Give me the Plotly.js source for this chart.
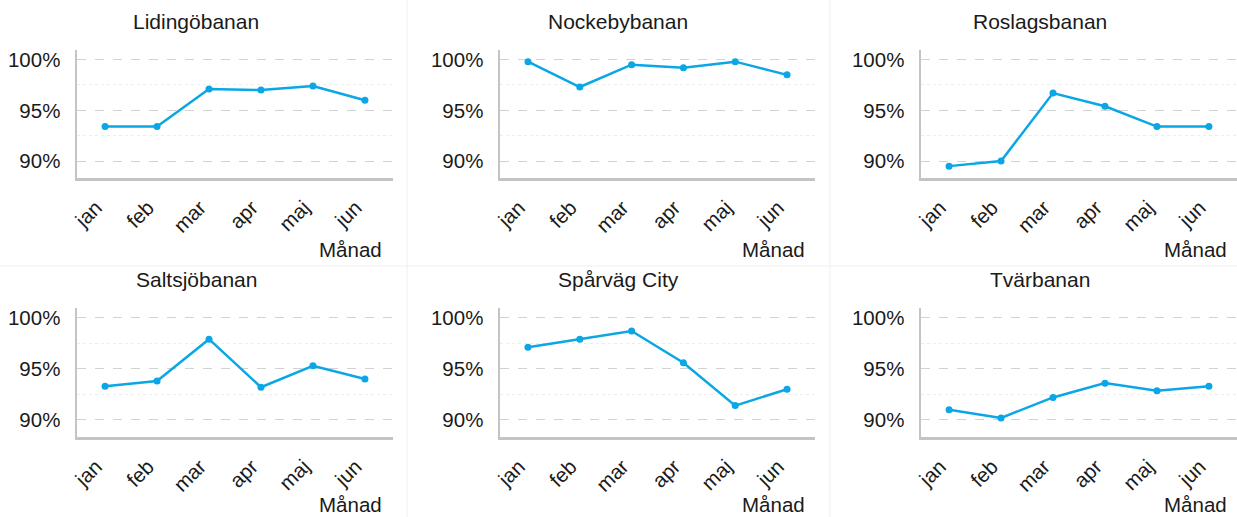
<!DOCTYPE html>
<html>
<head>
<meta charset="utf-8">
<script src="https://cdn.plot.ly/plotly-3.0.1.min.js"></script>
<style>html,body{margin:0;padding:0;background:#fff;}#chart{width:1237px;height:517px;}</style>
</head>
<body>
<div id="chart"></div>
<script>
const months = ['jan', 'feb', 'mar', 'apr', 'maj', 'jun'];
const lines = ['Lidingöbanan', 'Nockebybanan', 'Roslagsbanan', 'Saltsjöbanan', 'Spårväg City', 'Tvärbanan'];
const lidingobanan = [93.4, 93.4, 97.1, 97.0, 97.4, 96.0];
const nockebybanan = [99.8, 97.3, 99.5, 99.2, 99.8, 98.5];
const roslagsbanan = [89.5, 90.0, 96.7, 95.4, 93.4, 93.4];
const saltsjobanan = [93.3, 93.8, 97.9, 93.2, 95.3, 94.0];
const sparvagCity = [97.1, 97.9, 98.7, 95.6, 91.4, 93.0];
const tvarbanan = [91.0, 90.2, 92.2, 93.6, 92.85, 93.3];
const seriesValues = [lidingobanan, nockebybanan, roslagsbanan, saltsjobanan, sparvagCity, tvarbanan];
const yTickVals = [90, 95, 100];
const yTickText = ['90%', '95%', '100%'];
const xAxisTitle = 'Månad';

const W = 1237, H = 517;
const font = 'Liberation Sans, Arial, sans-serif';
const colX = [[77, 393], [500, 815], [921, 1237]];
const rowY = [[50, 178], [308, 437]];
const titleX = [196, 618, 1040];
const titleY = [22, 279];
const mlabelRight = [384, 807, 1229];
const mlabelY = [249, 504];

const data = [];
const layout = {
  width: W, height: H,
  margin: {l: 0, r: 0, t: 0, b: 0},
  paper_bgcolor: '#fff', plot_bgcolor: '#fff',
  showlegend: false,
  font: {family: font, size: 20.5, color: '#1a1a1a'},
  annotations: [],
  shapes: []
};

seriesValues.forEach((vals, i) => {
  const c = i % 3, r = Math.floor(i / 3);
  const n = i + 1;
  const xa = 'xaxis' + (n === 1 ? '' : n);
  const ya = 'yaxis' + (n === 1 ? '' : n);
  data.push({
    type: 'scatter', mode: 'lines+markers',
    x: months, y: vals,
    xaxis: 'x' + (n === 1 ? '' : n), yaxis: 'y' + (n === 1 ? '' : n),
    line: {color: '#0aa6e6', width: 2.5},
    marker: {color: '#0aa6e6', size: 7},
    hoverinfo: 'x+y'
  });
  layout[xa] = {
    domain: [colX[c][0] / W, colX[c][1] / W],
    anchor: 'y' + (n === 1 ? '' : n),
    type: 'category',
    range: [-0.54, 5.54],
    tickangle: -45,
    showgrid: false, zeroline: false,
    showline: true, linecolor: '#c4c4c4', linewidth: 2.5,
    ticks: '', ticklabelstandoff: 7, ticklabelshift: -9,
    tickfont: {family: font, size: 20.5, color: '#1a1a1a'},
    fixedrange: true
  };
  layout[ya] = {
    domain: [1 - rowY[r][1] / H, 1 - rowY[r][0] / H],
    anchor: 'x' + (n === 1 ? '' : n),
    range: [88.33, 100.95],
    tickvals: yTickVals, ticktext: yTickText,
    showgrid: true, gridcolor: '#d2d2d2', griddash: 'dash', gridwidth: 1,
    minor: {tickvals: [92.5, 97.5], showgrid: true, gridcolor: '#ececec', griddash: 'dot', gridwidth: 1, ticks: ''},
    zeroline: false,
    showline: true, linecolor: '#c4c4c4', linewidth: 2.5,
    ticks: '', ticklabelstandoff: 10,
    tickfont: {family: font, size: 20.5, color: '#1a1a1a'},
    fixedrange: true
  };
  layout.annotations.push({
    text: lines[i], xref: 'paper', yref: 'paper',
    x: titleX[c] / W, y: 1 - titleY[r] / H,
    xanchor: 'center', yanchor: 'middle', showarrow: false,
    font: {family: font, size: 21, color: '#1a1a1a'}
  });
  layout.annotations.push({
    text: xAxisTitle, xref: 'paper', yref: 'paper',
    x: mlabelRight[c] / W, y: 1 - mlabelY[r] / H,
    xanchor: 'right', yanchor: 'middle', showarrow: false,
    font: {family: font, size: 20.5, color: '#1a1a1a'}
  });
});

// faint separators between facet cells
[407, 830].forEach(px => layout.shapes.push({
  type: 'line', xref: 'paper', yref: 'paper', x0: px / W, x1: px / W, y0: 0, y1: 1,
  line: {color: '#f0f0f0', width: 1}, layer: 'below'
}));
layout.shapes.push({
  type: 'line', xref: 'paper', yref: 'paper', x0: 0, x1: 1, y0: 1 - 266 / H, y1: 1 - 266 / H,
  line: {color: '#f0f0f0', width: 1}, layer: 'below'
});

Plotly.newPlot('chart', data, layout, {displayModeBar: false, staticPlot: true});
</script>
</body>
</html>
